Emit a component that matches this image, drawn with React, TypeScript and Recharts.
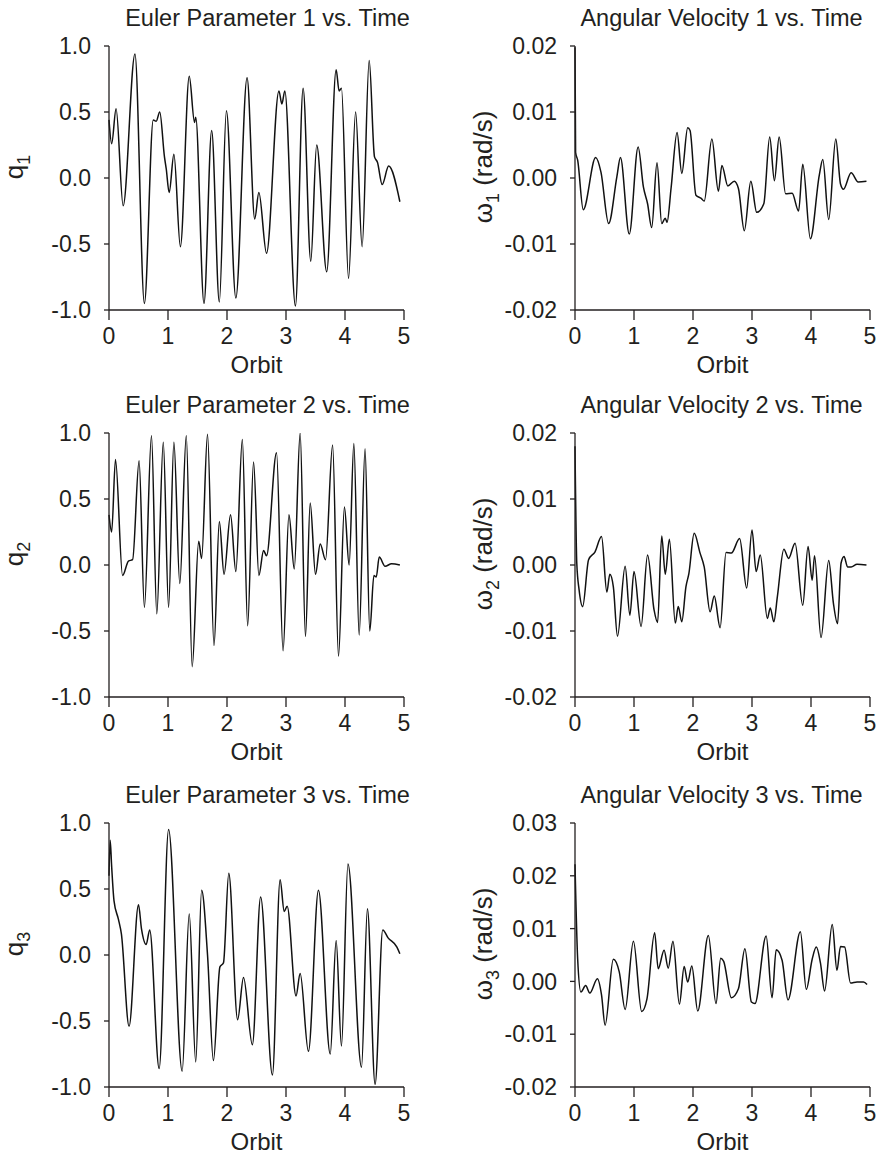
import React from 'react';
import { LineChart, Line, XAxis, YAxis } from 'recharts';

const orbitTicks = [0, 1, 2, 3, 4, 5];
const qTicks = [-1, -0.5, 0, 0.5, 1];
const w12Ticks = [-0.02, -0.01, 0, 0.01, 0.02];
const w3Ticks = [-0.02, -0.01, 0, 0.01, 0.02, 0.03];

const titles = [
  'Euler Parameter 1 vs. Time', 'Angular Velocity 1 vs. Time',
  'Euler Parameter 2 vs. Time', 'Angular Velocity 2 vs. Time',
  'Euler Parameter 3 vs. Time', 'Angular Velocity 3 vs. Time',
];

const q1Points: [number, number][] = [
  [0, 0.44], [0.045, 0.26], [0.12, 0.525], [0.24, -0.21], [0.44, 0.94], [0.6, -0.95], [0.75, 0.44], [0.8, 0.43],
  [0.86, 0.5], [0.94, 0.16], [0.97, 0.07], [1.02, -0.11], [1.1, 0.18], [1.21, -0.52], [1.36, 0.77], [1.45, 0.42],
  [1.47, 0.46], [1.61, -0.95], [1.74, 0.36], [1.87, -0.94], [1.99, 0.51], [2.15, -0.91], [2.34, 0.76], [2.47, -0.31],
  [2.54, -0.11], [2.67, -0.57], [2.88, 0.66], [2.93, 0.56], [2.98, 0.66], [3.16, -0.97], [3.29, 0.68], [3.42, -0.63],
  [3.52, 0.25], [3.69, -0.71], [3.85, 0.82], [3.9, 0.66], [3.94, 0.68], [4.06, -0.76], [4.18, 0.5], [4.29, -0.52],
  [4.41, 0.89], [4.5, 0.16], [4.55, 0.12], [4.63, -0.05], [4.74, 0.09], [4.93, -0.18],
];

const w1Points: [number, number][] = [
  [0, 0.0198], [0.01, 0.0039], [0.045, 0.0027], [0.14, -0.0048], [0.35, 0.0031], [0.44, 0.0009], [0.57, -0.0069],
  [0.71, 0.0002], [0.77, 0.0031], [0.92, -0.0085], [1.07, 0.0047], [1.16, -0.0014], [1.23, -0.0039], [1.3, -0.0075],
  [1.39, 0.0023], [1.47, -0.0069], [1.53, -0.0061], [1.56, -0.0067], [1.63, -0.0014], [1.73, 0.0069], [1.81, 0.0007],
  [1.91, 0.0076], [1.95, 0.0072], [2.05, -0.0026], [2.14, -0.0031], [2.19, -0.0035], [2.32, 0.0059], [2.43, -0.002],
  [2.49, 0.0019], [2.59, -0.0012], [2.7, -0.0005], [2.77, -0.0016], [2.87, -0.008], [2.98, -0.0005], [3.08, -0.0052],
  [3.2, -0.0039], [3.3, 0.0062], [3.38, -0.0004], [3.46, 0.0062], [3.57, -0.0024], [3.68, -0.0023], [3.79, -0.005],
  [3.86, 0.0021], [3.99, -0.0092], [4.14, 0.0004], [4.2, 0.0028], [4.3, -0.0063], [4.42, 0.0059], [4.5, -0.0009],
  [4.55, -0.0017], [4.68, 0.0008], [4.8, -0.0006], [4.94, -0.0005],
];

const q2Points: [number, number][] = [
  [0, 0.38], [0.045, 0.25], [0.11, 0.8], [0.23, -0.08], [0.33, 0.03], [0.4, 0.04], [0.51, 0.79], [0.6, -0.32],
  [0.72, 0.98], [0.81, -0.37], [0.92, 0.93], [1.01, -0.32], [1.1, 0.93], [1.2, -0.14], [1.31, 0.98], [1.41, -0.77],
  [1.52, 0.18], [1.57, 0.05], [1.67, 0.99], [1.78, -0.61], [1.87, 0.33], [1.95, -0.07], [2.06, 0.38], [2.15, -0.05],
  [2.26, 0.95], [2.35, -0.46], [2.45, 0.78], [2.54, -0.08], [2.62, 0.11], [2.67, 0.07], [2.84, 0.85], [2.95, -0.65],
  [3.05, 0.38], [3.14, -0.03], [3.24, 1.0], [3.33, -0.54], [3.41, 0.47], [3.5, -0.07], [3.58, 0.16], [3.67, 0.04],
  [3.79, 0.91], [3.89, -0.69], [3.99, 0.44], [4.07, 0.0], [4.15, 0.92], [4.24, -0.53], [4.34, 0.88], [4.42, -0.5],
  [4.49, -0.08], [4.53, -0.09], [4.58, 0.06], [4.68, -0.01], [4.79, 0.01], [4.93, 0.0],
];

const w2Points: [number, number][] = [
  [0, 0.018], [0.03, 0.0003], [0.07, -0.0038], [0.13, -0.0063], [0.23, 0.0008], [0.34, 0.002], [0.45, 0.0043],
  [0.54, -0.0041], [0.59, -0.0014], [0.65, -0.0033], [0.72, -0.0108], [0.85, -0.0002], [0.93, -0.0076], [1.0, -0.001],
  [1.12, -0.0093], [1.23, 0.0015], [1.34, -0.0068], [1.4, -0.0087], [1.47, 0.0044], [1.53, -0.0014], [1.6, 0.0039],
  [1.7, -0.0088], [1.75, -0.0063], [1.81, -0.0086], [1.88, -0.0033], [1.93, -0.0013], [2.02, 0.0048], [2.12, 0.0018],
  [2.19, -0.0003], [2.29, -0.0071], [2.36, -0.0047], [2.46, -0.0095], [2.56, 0.0019], [2.65, 0.0018], [2.79, 0.004],
  [2.91, -0.0035], [3.0, 0.0053], [3.07, -0.001], [3.14, 0.0015], [3.26, -0.0081], [3.31, -0.0065], [3.37, -0.0086],
  [3.43, -0.0048], [3.54, 0.0024], [3.62, 0.001], [3.73, 0.0033], [3.86, -0.0061], [3.95, 0.0028], [4.02, -0.0023],
  [4.06, 0.0014], [4.17, -0.011], [4.3, 0.0007], [4.38, -0.0058], [4.45, -0.0089], [4.51, 0.0003], [4.56, 0.0013],
  [4.62, -0.0003], [4.68, -0.0003], [4.78, 0.0001], [4.94, 0.0],
];

const q3Points: [number, number][] = [
  [0, 0.6], [0.02, 0.87], [0.045, 0.67], [0.085, 0.41], [0.16, 0.27], [0.21, 0.16], [0.34, -0.54], [0.5, 0.38],
  [0.55, 0.2], [0.63, 0.08], [0.69, 0.19], [0.85, -0.86], [1.01, 0.95], [1.24, -0.88], [1.36, 0.31], [1.47, -0.81],
  [1.57, 0.49], [1.67, 0.0], [1.77, -0.8], [1.88, -0.09], [1.94, -0.06], [2.03, 0.62], [2.18, -0.49], [2.28, -0.17],
  [2.43, -0.68], [2.57, 0.44], [2.77, -0.91], [2.9, 0.57], [2.97, 0.33], [3.02, 0.37], [3.17, -0.31], [3.24, -0.14],
  [3.38, -0.73], [3.55, 0.49], [3.75, -0.75], [3.85, 0.11], [3.94, -0.69], [4.05, 0.69], [4.28, -0.85], [4.38, 0.35],
  [4.51, -0.98], [4.64, 0.19], [4.73, 0.13], [4.88, 0.06], [4.93, 0.01],
];

const w3Points: [number, number][] = [
  [0, 0.0222], [0.045, 0.0043], [0.1, -0.002], [0.18, -0.0008], [0.25, -0.0022], [0.38, 0.0005], [0.45, -0.0026],
  [0.51, -0.0083], [0.65, 0.0042], [0.75, 0.0018], [0.85, -0.0053], [0.99, 0.0076], [1.13, -0.0057], [1.22, -0.0033],
  [1.35, 0.0092], [1.41, 0.0024], [1.51, 0.0059], [1.58, 0.0025], [1.66, 0.0076], [1.77, -0.0043], [1.85, 0.0028],
  [1.91, -0.0001], [1.98, 0.0029], [2.08, -0.0056], [2.26, 0.0087], [2.39, -0.0042], [2.47, 0.0044], [2.52, 0.0038],
  [2.65, -0.0031], [2.77, -0.0014], [2.88, 0.0062], [2.99, -0.0039], [3.05, -0.0042], [3.24, 0.0086], [3.34, -0.0031],
  [3.41, 0.006], [3.51, 0.004], [3.61, -0.0035], [3.82, 0.0094], [3.92, -0.0015], [4.02, 0.0042], [4.09, 0.0065],
  [4.16, 0.0035], [4.23, -0.0018], [4.36, 0.0108], [4.44, 0.0021], [4.5, 0.0066], [4.57, 0.0065], [4.67, -0.0003],
  [4.78, -0.0001], [4.89, -0.0001], [4.95, -0.0006],
];

const FONT = '"Liberation Sans", Arial, Helvetica, sans-serif';
const INK = '#231f20';

const rowTops = [46, 433, 823];
const colLefts = [109, 575];
const titleCenters = [267.5, 721.5];
const labelBaselines = [23, 492];

type PanelProps = {
  left: number;
  top: number;
  points: [number, number][];
  yDomain: [number, number];
  yTicks: number[];
  digits: number;
};

function Panel({ left, top, points, yDomain, yTicks, digits }: PanelProps) {
  const data = points.map(([orbit, value]) => ({ orbit, value }));
  return (
    <div style={{ position: 'absolute', left, top }}>
      <LineChart width={430} height={380} data={data} margin={{ top: 46, right: 26, left: 49, bottom: 40 }}>
        <XAxis
          dataKey="orbit"
          type="number"
          domain={[0, 5]}
          ticks={orbitTicks}
          interval={0}
          tickSize={10}
          tickMargin={8}
          height={30}
          stroke={INK}
          strokeWidth={1.3}
          tick={{ fill: INK, fontSize: 23, fontFamily: FONT }}
        />
        <YAxis
          type="number"
          domain={yDomain}
          ticks={yTicks}
          interval={0}
          tickSize={5}
          tickMargin={13}
          width={60}
          stroke={INK}
          strokeWidth={1.3}
          tick={{ fill: INK, fontSize: 23, fontFamily: FONT }}
          tickFormatter={(v: number) => v.toFixed(digits)}
          allowDataOverflow
        />
        <Line
          type="monotone"
          dataKey="value"
          stroke="#111"
          strokeWidth={1.5}
          dot={false}
          isAnimationActive={false}
        />
      </LineChart>
    </div>
  );
}

const panels = [
  { points: q1Points, yDomain: [-1, 1] as [number, number], yTicks: qTicks, digits: 1 },
  { points: w1Points, yDomain: [-0.02, 0.02] as [number, number], yTicks: w12Ticks, digits: 2 },
  { points: q2Points, yDomain: [-1, 1] as [number, number], yTicks: qTicks, digits: 1 },
  { points: w2Points, yDomain: [-0.02, 0.02] as [number, number], yTicks: w12Ticks, digits: 2 },
  { points: q3Points, yDomain: [-1, 1] as [number, number], yTicks: qTicks, digits: 1 },
  { points: w3Points, yDomain: [-0.02, 0.03] as [number, number], yTicks: w3Ticks, digits: 2 },
];

export default function App() {
  return (
    <div style={{ position: 'absolute', left: 0, top: 0, width: 878, height: 1154, background: '#fff' }}>
      {panels.map((p, i) => {
        const r = Math.floor(i / 2);
        const c = i % 2;
        return (
          <Panel
            key={i}
            left={colLefts[c] - 109}
            top={rowTops[r] - 46}
            points={p.points}
            yDomain={p.yDomain}
            yTicks={p.yTicks}
            digits={p.digits}
          />
        );
      })}
      <svg
        width={878}
        height={1154}
        style={{ position: 'absolute', left: 0, top: 0, pointerEvents: 'none' }}
        fontFamily={FONT}
        fill={INK}
      >
        {panels.map((p, i) => {
          const r = Math.floor(i / 2);
          const c = i % 2;
          const T = rowTops[r];
          const L = colLefts[c];
          const n = r + 1;
          const cy = T + 121;
          const bx = labelBaselines[c];
          return (
            <g key={i}>
              <text x={titleCenters[c]} y={T - 20} fontSize={23.5} textAnchor="middle">
                {titles[i]}
              </text>
              <text x={L + 147.5} y={T + 327} fontSize={24} textAnchor="middle">
                Orbit
              </text>
              <text
                x={bx}
                y={cy}
                fontSize={26}
                textAnchor="middle"
                transform={`rotate(-90, ${bx}, ${cy})`}
              >
                {c === 0 ? 'q' : '\u03c9'}
                <tspan fontSize={18} dy={7}>{String(n)}</tspan>
                {c === 1 ? <tspan dy={-7}>{' (rad/s)'}</tspan> : null}
              </text>
            </g>
          );
        })}
      </svg>
    </div>
  );
}
